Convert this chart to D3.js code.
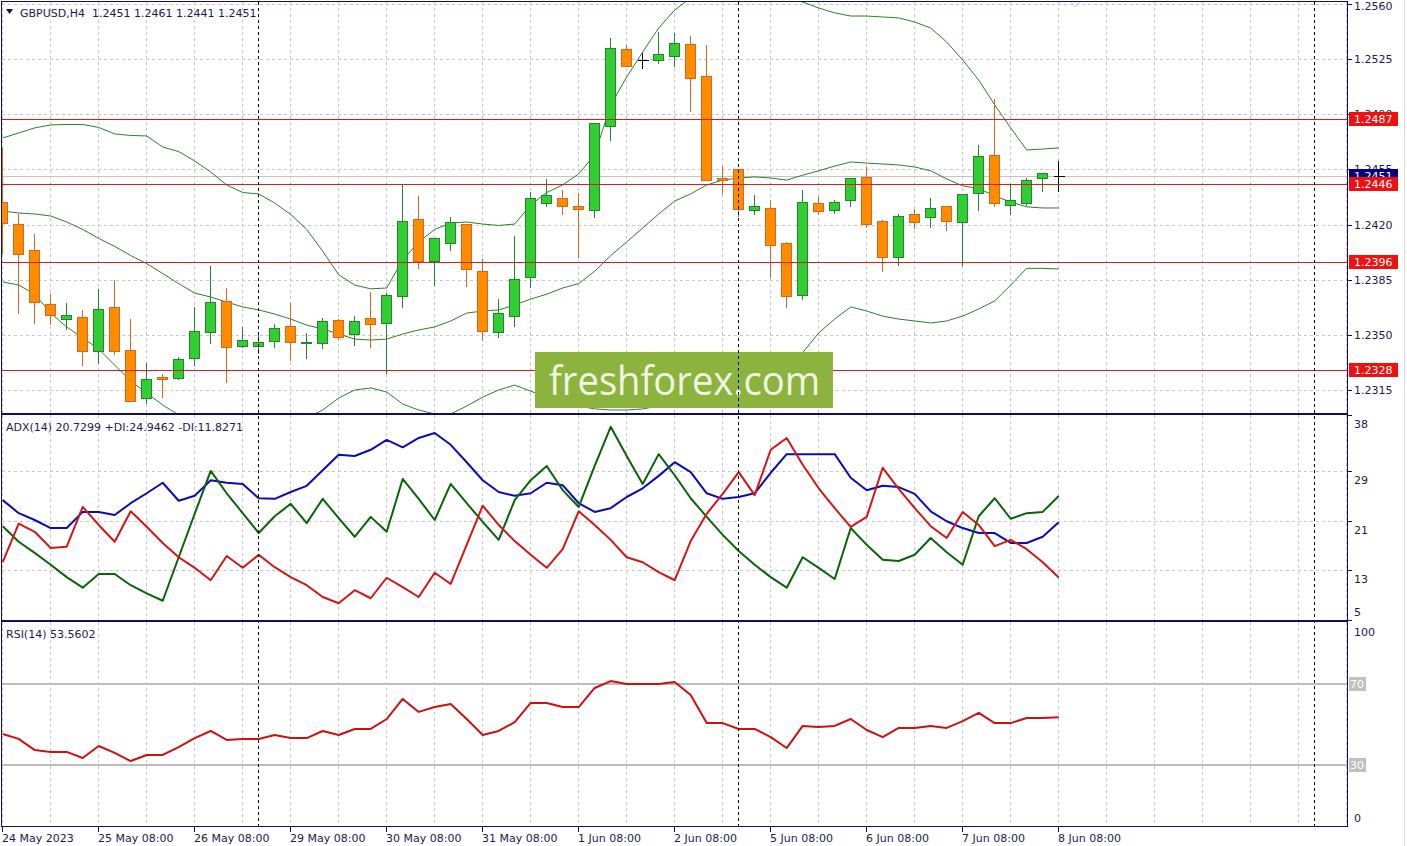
<!DOCTYPE html>
<html>
<head>
<meta charset="utf-8">
<title>GBPUSD H4</title>
<script src="https://cdn.jsdelivr.net/npm/d3@7"></script>
<style>
  body { margin: 0; background: #fff; }
  svg { display: block; font: 11px "DejaVu Sans", sans-serif; }
  .lbl { fill: #1b1b4f; }
  .grid { stroke: #c8c8c8; stroke-dasharray: 3,3; shape-rendering: crispEdges; }
  .frame { fill: none; stroke: #10105a; shape-rendering: crispEdges; }
</style>
</head>
<body>
<svg width="1407" height="846"></svg>
<script>
// ---- data (GBPUSD H4, bar 0 = 24 May 08:00) ----
var openP = [
  1.24343, 1.24203, 1.24038, 1.23696, 1.23602, 1.23611, 1.23395, 1.23677, 1.23403, 1.23097,
  1.23230, 1.23224, 1.23355, 1.23516, 1.23713, 1.23431, 1.23431, 1.23463, 1.23556, 1.23446,
  1.23446, 1.23592, 1.23503, 1.23605, 1.23573, 1.23744, 1.24233, 1.23970, 1.24081, 1.24201,
  1.23903, 1.23516, 1.23622, 1.23865, 1.24335, 1.24370, 1.24319, 1.24292, 1.24827, 1.25312,
  1.25244, 1.25247, 1.25272, 1.25344, 1.25142, 1.24493, 1.24550, 1.24292, 1.24303, 1.24085,
  1.23751, 1.24335, 1.24292, 1.24354, 1.24500, 1.24221, 1.23992, 1.24264, 1.24247, 1.24316,
  1.24214, 1.24403, 1.24639, 1.24322, 1.24335, 1.24493, 1.24510];
var highP = [
  1.24692, 1.24273, 1.24146, 1.23765, 1.23708, 1.23662, 1.23796, 1.23852, 1.23605, 1.23328,
  1.23258, 1.23366, 1.23683, 1.23945, 1.23802, 1.23556, 1.23514, 1.23577, 1.23708, 1.23518,
  1.23611, 1.23608, 1.23626, 1.23778, 1.23774, 1.24462, 1.24387, 1.24116, 1.24254, 1.24212,
  1.23986, 1.23736, 1.24135, 1.24413, 1.24493, 1.24424, 1.24406, 1.24853, 1.25391, 1.25346,
  1.25297, 1.25430, 1.25420, 1.25403, 1.25346, 1.24578, 1.24559, 1.24394, 1.24362, 1.24096,
  1.24424, 1.24383, 1.24360, 1.24500, 1.24571, 1.24233, 1.24271, 1.24303, 1.24373, 1.24322,
  1.24397, 1.24709, 1.25003, 1.24462, 1.24500, 1.24530, 1.24610];
var lowP = [
  1.24019, 1.23638, 1.23575, 1.23569, 1.23539, 1.23310, 1.23322, 1.23378, 1.23078, 1.23070,
  1.23103, 1.23220, 1.23307, 1.23450, 1.23202, 1.23423, 1.23386, 1.23425, 1.23341, 1.23355,
  1.23414, 1.23476, 1.23436, 1.23425, 1.23260, 1.23675, 1.23922, 1.23816, 1.24038, 1.23812,
  1.23467, 1.23484, 1.23553, 1.23802, 1.24318, 1.24264, 1.23996, 1.24250, 1.24736, 1.25206,
  1.25192, 1.25222, 1.25208, 1.24923, 1.24480, 1.24403, 1.24254, 1.24264, 1.23869, 1.23675,
  1.23729, 1.24264, 1.24271, 1.24316, 1.24183, 1.23903, 1.23941, 1.24180, 1.24183, 1.24163,
  1.23941, 1.24292, 1.24316, 1.24264, 1.24322, 1.24411, 1.24410];
var closeP = [
  1.24210, 1.24014, 1.23708, 1.23626, 1.23624, 1.23399, 1.23662, 1.23395, 1.23082, 1.23222,
  1.23219, 1.23345, 1.23524, 1.23707, 1.23425, 1.23465, 1.23453, 1.23542, 1.23453, 1.23455,
  1.23586, 1.23484, 1.23589, 1.23567, 1.23751, 1.24222, 1.23970, 1.24112, 1.24214, 1.23916,
  1.23522, 1.23636, 1.23852, 1.24370, 1.24386, 1.24316, 1.24300, 1.24842, 1.25318, 1.25208,
  1.25244, 1.25280, 1.25350, 1.25132, 1.24481, 1.24481, 1.24300, 1.24316, 1.24068, 1.23744,
  1.24341, 1.24284, 1.24341, 1.24493, 1.24201, 1.23996, 1.24253, 1.24214, 1.24303, 1.24221,
  1.24393, 1.24633, 1.24335, 1.24354, 1.24481, 1.24525, 1.24510];

var bbUpper = [
  1.24749, 1.24781, 1.24813, 1.24832, 1.24835, 1.24835, 1.24816, 1.24775, 1.24765, 1.24762,
  1.24692, 1.24663, 1.24603, 1.24533, 1.24451, 1.24403, 1.24394, 1.24336, 1.24264, 1.24169,
  1.24031, 1.23881, 1.23816, 1.23792, 1.23797, 1.23975, 1.24089, 1.24169, 1.24210, 1.24216,
  1.24203, 1.24194, 1.24203, 1.24324, 1.24403, 1.24451, 1.24521, 1.24643, 1.24959, 1.25136,
  1.25295, 1.25447, 1.25561, 1.25638, 1.25676, 1.25701, 1.25701, 1.25689, 1.25663, 1.25638,
  1.25612, 1.25574, 1.25543, 1.25523, 1.25523, 1.25517, 1.25511, 1.25485, 1.25447, 1.25358,
  1.25244, 1.25117, 1.24959, 1.24813, 1.24673, 1.24679, 1.24686];
var bbMiddle = [
  1.24286, 1.24273, 1.24267, 1.24254, 1.24216, 1.24169, 1.24112, 1.24061, 1.24003, 1.23952,
  1.23889, 1.23825, 1.23765, 1.23740, 1.23708, 1.23677, 1.23658, 1.23632, 1.23600, 1.23562,
  1.23537, 1.23505, 1.23473, 1.23467, 1.23473, 1.23505, 1.23531, 1.23550, 1.23588, 1.23638,
  1.23651, 1.23658, 1.23689, 1.23727, 1.23758, 1.23797, 1.23825, 1.23903, 1.24003, 1.24089,
  1.24178, 1.24267, 1.24349, 1.24394, 1.24451, 1.24482, 1.24495, 1.24502, 1.24495, 1.24482,
  1.24513, 1.24541, 1.24571, 1.24597, 1.24590, 1.24584, 1.24578, 1.24565, 1.24541, 1.24489,
  1.24445, 1.24429, 1.24381, 1.24343, 1.24312, 1.24305, 1.24305];
var bbLower = [
  1.23836, 1.23816, 1.23758, 1.23638, 1.23550, 1.23480, 1.23410, 1.23308, 1.23207, 1.23131,
  1.23055, 1.22992, 1.22928, 1.22884, 1.22853, 1.22833, 1.22827, 1.22847, 1.22897, 1.22972,
  1.23023, 1.23099, 1.23150, 1.23163, 1.23137, 1.23061, 1.23023, 1.22998, 1.22998, 1.23048,
  1.23105, 1.23150, 1.23181, 1.23143, 1.23105, 1.23070, 1.23048, 1.23030, 1.23023, 1.23023,
  1.23030, 1.23048, 1.23097, 1.23150, 1.23224, 1.23292, 1.23356, 1.23387, 1.23387, 1.23368,
  1.23387, 1.23512, 1.23600, 1.23677, 1.23651, 1.23619, 1.23600, 1.23588, 1.23575, 1.23588,
  1.23619, 1.23664, 1.23715, 1.23816, 1.23922, 1.23922, 1.23918];

var adxMain = [
  24.3, 22.2, 21.1, 19.8, 19.8, 22.4, 22.4, 21.9, 23.8, 25.4,
  27.1, 24.2, 25.0, 27.5, 27.1, 26.9, 24.6, 24.5, 25.6, 26.6,
  29.1, 31.6, 31.4, 32.4, 34.0, 32.8, 34.3, 35.1, 33.2, 30.4,
  27.5, 25.6, 25.0, 25.4, 27.1, 26.7, 23.8, 22.4, 23.0, 24.8,
  26.2, 28.2, 30.4, 28.8, 25.4, 24.5, 24.8, 25.4, 28.7, 31.7,
  31.7, 31.7, 31.7, 27.9, 25.9, 26.6, 26.4, 25.3, 22.5, 20.9,
  19.8, 19.0, 19.0, 17.4, 17.4, 18.4, 20.73];
var plusDI = [
  20.1, 17.6, 15.8, 13.9, 11.9, 10.2, 12.4, 12.4, 10.6, 9.3,
  8.1, 15.1, 22.1, 29.0, 25.4, 22.2, 19.0, 21.7, 23.7, 20.6,
  24.5, 21.4, 18.4, 21.6, 19.2, 27.7, 24.5, 21.1, 26.9, 23.8,
  20.8, 17.9, 24.3, 27.5, 29.8, 25.9, 23.2, 29.8, 36.1, 31.4,
  26.9, 31.7, 28.3, 24.6, 21.6, 18.7, 16.1, 13.9, 11.9, 10.2,
  15.1, 13.4, 11.6, 19.8, 17.1, 14.7, 14.5, 15.5, 18.2, 15.9,
  13.9, 21.7, 24.6, 21.3, 22.2, 22.4, 24.95];
var minusDI = [
  14.3, 20.5, 19.2, 16.6, 16.8, 23.2, 20.3, 17.6, 22.5, 20.0,
  17.4, 15.1, 13.4, 11.4, 15.3, 13.4, 15.5, 13.5, 11.9, 10.6,
  8.7, 7.7, 9.8, 8.5, 11.8, 10.3, 8.7, 12.6, 10.8, 17.1,
  23.4, 20.3, 17.7, 15.5, 13.4, 16.4, 22.5, 20.3, 17.9, 15.1,
  14.3, 12.7, 11.4, 17.7, 22.1, 25.3, 28.8, 25.1, 32.4, 34.3,
  30.0, 26.2, 23.0, 20.0, 21.6, 29.5, 26.1, 23.0, 20.1, 18.2,
  22.4, 20.3, 16.9, 17.9, 16.4, 14.3, 11.83];
var rsiValues = [
  45.3, 42.9, 37.4, 36.5, 36.5, 33.5, 39.4, 36.0, 32.0, 35.0,
  35.0, 38.9, 43.3, 46.8, 42.4, 42.9, 42.9, 44.8, 43.3, 43.3,
  46.8, 44.8, 47.8, 47.8, 52.7, 62.6, 56.2, 58.6, 60.1, 52.7,
  44.8, 46.8, 51.2, 60.6, 60.6, 58.6, 58.6, 68.0, 71.4, 70.0,
  70.0, 70.0, 70.9, 64.5, 50.7, 50.7, 47.8, 47.8, 43.8, 38.4,
  49.3, 48.8, 49.3, 52.7, 47.3, 43.8, 48.3, 48.3, 49.3, 48.3,
  51.7, 55.7, 50.7, 50.7, 53.2, 53.2, 53.56];

var levelPrices = [1.2487, 1.2446, 1.2396, 1.2328];
var bidPrice = 1.2451;
var priceTicks = [1.2560, 1.2525, 1.2490, 1.2455, 1.2420, 1.2385, 1.2350, 1.2315];
var adxTicks = [38, 29, 21, 13, 5];
var rsiTicks = [100, 0];
var rsiLevels = [70, 30];
var timeLabels = ["24 May 2023", "25 May 08:00", "26 May 08:00", "29 May 08:00", "30 May 08:00",
  "31 May 08:00", "1 Jun 08:00", "2 Jun 08:00", "5 Jun 08:00", "6 Jun 08:00", "7 Jun 08:00", "8 Jun 08:00"];
var timeLabelBars = [0, 6, 12, 18, 24, 30, 36, 42, 48, 54, 60, 66];
var separatorBars = [16, 46, 82];

// ---- layout ----
var svg = d3.select("svg");
var left = 2, right = 1347;

var x = d3.scaleLinear().domain([0, 84]).range([2.7, 1346.7]);
var yPrice = d3.scaleLinear().domain([1.23004, 1.25612]).range([413, 2]);
var yAdx = d3.scaleLinear().domain([5, 38]).range([620, 415]);
var yRsi = d3.scaleLinear().domain([0, 100]).range([826, 623]);

var bars = d3.range(openP.length);
function xc(i) { return Math.floor(x(i)) + 0.5; }
function py(v) { return Math.round(yPrice(v)) + 0.5; }

var defs = svg.append("defs");
[["clipPrice", 2, 413], ["clipAdx", 415, 620], ["clipRsi", 622, 826]].forEach(function(c) {
  defs.append("clipPath").attr("id", c[0]).append("rect")
    .attr("x", left).attr("y", c[1]).attr("width", right - left).attr("height", c[2] - c[1]);
});

// grid (vertical every 3 bars, all panels)
var gridBars = d3.range(0, 85, 3);
[[2, 413], [415, 620], [622, 826]].forEach(function(p) {
  svg.append("g").selectAll("line").data(gridBars).join("line")
    .attr("class", "grid")
    .attr("x1", function(d) { return xc(d); }).attr("x2", function(d) { return xc(d); })
    .attr("y1", p[0]).attr("y2", p[1]);
});
svg.append("g").selectAll("line").data(priceTicks).join("line")
  .attr("class", "grid")
  .attr("x1", left).attr("x2", right)
  .attr("y1", function(d) { return py(d); }).attr("y2", function(d) { return py(d); });
svg.append("g").selectAll("line").data(adxTicks.slice(1, 4)).join("line")
  .attr("class", "grid")
  .attr("x1", left).attr("x2", right)
  .attr("y1", function(d) { return Math.round(yAdx(d)) + 0.5; })
  .attr("y2", function(d) { return Math.round(yAdx(d)) + 0.5; });

// ---- price panel ----
var gP = svg.append("g").attr("clip-path", "url(#clipPrice)");

gP.append("line")
  .attr("x1", left).attr("x2", right)
  .attr("y1", py(bidPrice)).attr("y2", py(bidPrice))
  .attr("stroke", "#c4c4c4").attr("shape-rendering", "crispEdges");

var bandLine = d3.line().x(function(d, i) { return x(i); }).y(function(d) { return yPrice(d); });
[bbUpper, bbMiddle, bbLower].forEach(function(s) {
  gP.append("path").datum(s)
    .attr("d", bandLine)
    .attr("fill", "none")
    .attr("stroke", "#2f7d2f")
    .attr("stroke-width", 1);
});

function candleStroke(i) {
  if (openP[i] === closeP[i]) return "#000";
  return closeP[i] > openP[i] ? "#22862a" : "#d2691e";
}

var candle = gP.selectAll("g.candle").data(bars).join("g").attr("class", "candle");
candle.append("line")
  .attr("x1", xc).attr("x2", xc)
  .attr("y1", function(i) { return py(highP[i]); })
  .attr("y2", function(i) { return py(lowP[i]); })
  .attr("stroke", candleStroke)
  .attr("shape-rendering", "crispEdges");
candle.filter(function(i) { return openP[i] !== closeP[i]; }).append("rect")
  .attr("x", function(i) { return xc(i) - 5; })
  .attr("y", function(i) { return py(Math.max(openP[i], closeP[i])); })
  .attr("width", 10)
  .attr("height", function(i) {
    return Math.max(1, py(Math.min(openP[i], closeP[i])) - py(Math.max(openP[i], closeP[i])));
  })
  .attr("fill", function(i) { return closeP[i] > openP[i] ? "#32cd32" : "#ff8c00"; })
  .attr("stroke", candleStroke)
  .attr("shape-rendering", "crispEdges");
candle.filter(function(i) { return openP[i] === closeP[i]; }).append("line")
  .attr("x1", function(i) { return xc(i) - 5; }).attr("x2", function(i) { return xc(i) + 6; })
  .attr("y1", function(i) { return py(openP[i]); }).attr("y2", function(i) { return py(openP[i]); })
  .attr("stroke", "#000").attr("shape-rendering", "crispEdges");

// horizontal support / resistance lines
gP.selectAll("line.level").data(levelPrices).join("line")
  .attr("class", "level")
  .attr("x1", left).attr("x2", right)
  .attr("y1", function(d) { return py(d); }).attr("y2", function(d) { return py(d); })
  .attr("stroke", "#e01a1a").attr("shape-rendering", "crispEdges");

// small marker at the top of the price panel
gP.append("path").attr("d", "M1071,2 L1075.5,7 L1080,2")
  .attr("fill", "none").attr("stroke", "#c6c6f0");

// logo
var logo = svg.append("g");
logo.append("rect").attr("x", 535).attr("y", 352).attr("width", 298).attr("height", 56).attr("fill", "#8cb33e");
logo.append("text").attr("x", 549).attr("y", 395)
  .attr("textLength", 271).attr("lengthAdjust", "spacingAndGlyphs")
  .style("font", "41px 'Open Sans', sans-serif").attr("fill", "#f1f5e4")
  .text("freshforex.com");

// ---- ADX panel ----
var gA = svg.append("g").attr("clip-path", "url(#clipAdx)");
var adxLine = d3.line().x(function(d, i) { return x(i); }).y(function(d) { return yAdx(d); });
[[adxMain, "#0c0cb4"], [plusDI, "#0a640a"], [minusDI, "#d41616"]].forEach(function(s) {
  gA.append("path").datum(s[0]).attr("d", adxLine)
    .attr("fill", "none").attr("stroke", s[1]).attr("stroke-width", 2)
    .attr("stroke-linejoin", "round");
});

// ---- RSI panel ----
var gR = svg.append("g").attr("clip-path", "url(#clipRsi)");
gR.selectAll("line.lvl").data(rsiLevels).join("line")
  .attr("x1", left).attr("x2", right)
  .attr("y1", function(d) { return Math.round(yRsi(d)); })
  .attr("y2", function(d) { return Math.round(yRsi(d)); })
  .attr("stroke", "#bdbdbd").attr("stroke-width", 2);
gR.append("path").datum(rsiValues)
  .attr("d", d3.line().x(function(d, i) { return x(i); }).y(function(d) { return yRsi(d); }))
  .attr("fill", "none").attr("stroke", "#cc1111").attr("stroke-width", 2)
  .attr("stroke-linejoin", "round");

// period separators
svg.append("g").selectAll("line").data(separatorBars).join("line")
  .attr("x1", xc).attr("x2", xc).attr("y1", 2).attr("y2", 826)
  .attr("stroke", "#000").attr("stroke-dasharray", "3,3")
  .attr("shape-rendering", "crispEdges");

// frames
svg.append("rect").attr("class", "frame").attr("x", 1.5).attr("y", 1.5).attr("width", 1346).attr("height", 411.5);
svg.append("rect").attr("class", "frame").attr("x", 1.5).attr("y", 414.5).attr("width", 1346).attr("height", 206);
svg.append("rect").attr("class", "frame").attr("x", 1.5).attr("y", 621.5).attr("width", 1346).attr("height", 205);
svg.append("line").attr("x1", 1404.5).attr("x2", 1404.5).attr("y1", 0).attr("y2", 846)
  .attr("stroke", "#dcdcdc");

// ---- right axis labels ----
var axisG = svg.append("g");
axisG.selectAll("line.pt").data(priceTicks).join("line")
  .attr("x1", 1348).attr("x2", 1352)
  .attr("y1", function(d) { return py(d); }).attr("y2", function(d) { return py(d); })
  .attr("stroke", "#10105a").attr("shape-rendering", "crispEdges");
axisG.selectAll("text.pt").data(priceTicks).join("text")
  .attr("class", "lbl").attr("x", 1354)
  .attr("y", function(d) { return Math.max(yPrice(d) + 4, 10); })
  .text(function(d) { return d.toFixed(4); });

function priceBox(v, fill) {
  var y0 = Math.round(yPrice(v));
  axisG.append("rect").attr("x", 1349).attr("y", y0 - 7).attr("width", 49).attr("height", 14).attr("fill", fill);
  axisG.append("text").attr("x", 1354).attr("y", y0 + 4).attr("fill", "#fff").text(v.toFixed(4));
}
priceBox(bidPrice, "#000080");
levelPrices.forEach(function(v) { priceBox(v, "#f01010"); });

axisG.selectAll("line.at").data(adxTicks).join("line")
  .attr("x1", 1348).attr("x2", 1352)
  .attr("y1", function(d) { return Math.round(yAdx(d)) + 0.5; })
  .attr("y2", function(d) { return Math.round(yAdx(d)) + 0.5; })
  .attr("stroke", "#10105a").attr("shape-rendering", "crispEdges");
axisG.selectAll("text.at").data(adxTicks).join("text")
  .attr("class", "lbl").attr("x", 1354)
  .attr("y", function(d, i) { return i === adxTicks.length - 1 ? yAdx(d) - 4 : yAdx(d) + 13; })
  .text(function(d) { return d; });

axisG.selectAll("text.rt").data(rsiTicks).join("text")
  .attr("class", "lbl").attr("x", 1354)
  .attr("y", function(d) { return d === 0 ? yRsi(d) - 4 : yRsi(d) + 13; })
  .text(function(d) { return d; });
rsiLevels.forEach(function(v) {
  var y0 = Math.round(yRsi(v));
  axisG.append("rect").attr("x", 1349).attr("y", y0 - 7).attr("width", 17).attr("height", 14).attr("fill", "#c0c0c0");
  axisG.append("text").attr("x", 1350).attr("y", y0 + 4).attr("fill", "#fff").text(v);
});

// ---- time axis ----
svg.append("g").selectAll("line").data(timeLabelBars).join("line")
  .attr("x1", xc).attr("x2", xc).attr("y1", 827).attr("y2", 832)
  .attr("stroke", "#10105a").attr("shape-rendering", "crispEdges");
svg.append("g").selectAll("text").data(timeLabelBars).join("text")
  .attr("class", "lbl")
  .attr("x", function(d) { return Math.floor(x(d)); })
  .attr("y", 842)
  .text(function(d, i) { return timeLabels[i]; });

// ---- headers ----
svg.append("path").attr("d", "M6,9 L13,9 L9.5,14 Z").attr("fill", "#10105a");
svg.append("text").attr("class", "lbl").attr("x", 20).attr("y", 17).style("white-space", "pre")
  .text("GBPUSD,H4  1.2451 1.2461 1.2441 1.2451");
svg.append("text").attr("class", "lbl").attr("x", 6).attr("y", 431)
  .text("ADX(14) 20.7299 +DI:24.9462 -DI:11.8271");
svg.append("text").attr("class", "lbl").attr("x", 6).attr("y", 638)
  .text("RSI(14) 53.5602");
</script>
</body>
</html>
